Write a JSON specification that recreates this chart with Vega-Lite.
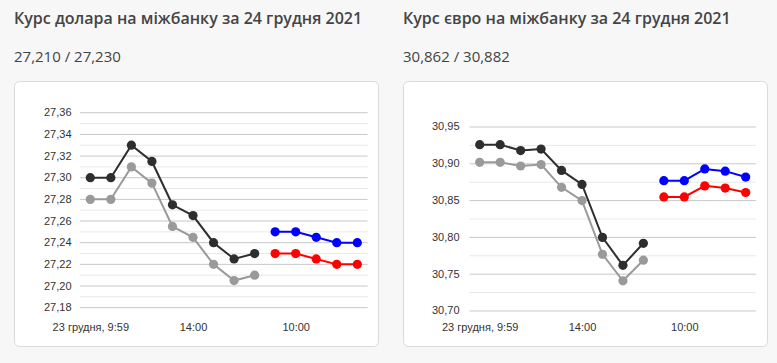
{
  "$schema": "https://vega.github.io/schema/vega-lite/v6.json",
  "background": "#f7f7f7",
  "padding": {"left": 13, "top": 10, "right": 13, "bottom": 16},
  "autosize": {"type": "pad"},
  "config": {
    "locale": {"number": {"decimal": ",", "thousands": " ", "grouping": [3], "currency": ["", ""]}},
    "view": {"fill": "white", "stroke": "#dadada", "strokeWidth": 1, "cornerRadius": 5},
    "concat": {"spacing": 23},
    "axis": {"labelFont": "Liberation Sans", "labelFontSize": 11, "labelColor": "#333333", "grid": false, "domain": false, "ticks": false, "tickSize": 0, "labelPadding": 0, "labelFlush": false, "labelOverlap": false},
    "title": {"font": "Open Sans", "fontSize": 16, "fontWeight": 600, "color": "#444444", "subtitleFont": "Open Sans", "subtitleFontSize": 15, "subtitleColor": "#444444", "anchor": "start", "frame": "group", "offset": 16, "subtitlePadding": 23}
  },
  "datasets": {
    "usd": [
      {"i": 0, "s": "купівля 23.12", "v": 27.28}, {"i": 1, "s": "купівля 23.12", "v": 27.28}, {"i": 2, "s": "купівля 23.12", "v": 27.31}, {"i": 3, "s": "купівля 23.12", "v": 27.295}, {"i": 4, "s": "купівля 23.12", "v": 27.255}, {"i": 5, "s": "купівля 23.12", "v": 27.245}, {"i": 6, "s": "купівля 23.12", "v": 27.22}, {"i": 7, "s": "купівля 23.12", "v": 27.205}, {"i": 8, "s": "купівля 23.12", "v": 27.21},
      {"i": 0, "s": "продаж 23.12", "v": 27.30}, {"i": 1, "s": "продаж 23.12", "v": 27.30}, {"i": 2, "s": "продаж 23.12", "v": 27.33}, {"i": 3, "s": "продаж 23.12", "v": 27.315}, {"i": 4, "s": "продаж 23.12", "v": 27.275}, {"i": 5, "s": "продаж 23.12", "v": 27.265}, {"i": 6, "s": "продаж 23.12", "v": 27.24}, {"i": 7, "s": "продаж 23.12", "v": 27.225}, {"i": 8, "s": "продаж 23.12", "v": 27.23},
      {"i": 9, "s": "купівля 24.12", "v": 27.23}, {"i": 10, "s": "купівля 24.12", "v": 27.23}, {"i": 11, "s": "купівля 24.12", "v": 27.225}, {"i": 12, "s": "купівля 24.12", "v": 27.22}, {"i": 13, "s": "купівля 24.12", "v": 27.22},
      {"i": 9, "s": "продаж 24.12", "v": 27.25}, {"i": 10, "s": "продаж 24.12", "v": 27.25}, {"i": 11, "s": "продаж 24.12", "v": 27.245}, {"i": 12, "s": "продаж 24.12", "v": 27.24}, {"i": 13, "s": "продаж 24.12", "v": 27.24}
    ],
    "eur": [
      {"i": 0, "s": "купівля 23.12", "v": 30.902}, {"i": 1, "s": "купівля 23.12", "v": 30.902}, {"i": 2, "s": "купівля 23.12", "v": 30.897}, {"i": 3, "s": "купівля 23.12", "v": 30.899}, {"i": 4, "s": "купівля 23.12", "v": 30.868}, {"i": 5, "s": "купівля 23.12", "v": 30.85}, {"i": 6, "s": "купівля 23.12", "v": 30.777}, {"i": 7, "s": "купівля 23.12", "v": 30.741}, {"i": 8, "s": "купівля 23.12", "v": 30.769},
      {"i": 0, "s": "продаж 23.12", "v": 30.926}, {"i": 1, "s": "продаж 23.12", "v": 30.926}, {"i": 2, "s": "продаж 23.12", "v": 30.918}, {"i": 3, "s": "продаж 23.12", "v": 30.92}, {"i": 4, "s": "продаж 23.12", "v": 30.891}, {"i": 5, "s": "продаж 23.12", "v": 30.872}, {"i": 6, "s": "продаж 23.12", "v": 30.8}, {"i": 7, "s": "продаж 23.12", "v": 30.762}, {"i": 8, "s": "продаж 23.12", "v": 30.792},
      {"i": 9, "s": "купівля 24.12", "v": 30.855}, {"i": 10, "s": "купівля 24.12", "v": 30.855}, {"i": 11, "s": "купівля 24.12", "v": 30.87}, {"i": 12, "s": "купівля 24.12", "v": 30.867}, {"i": 13, "s": "купівля 24.12", "v": 30.861},
      {"i": 9, "s": "продаж 24.12", "v": 30.877}, {"i": 10, "s": "продаж 24.12", "v": 30.877}, {"i": 11, "s": "продаж 24.12", "v": 30.893}, {"i": 12, "s": "продаж 24.12", "v": 30.89}, {"i": 13, "s": "продаж 24.12", "v": 30.882}
    ],
    "usdGrid": [
      {"v": 27.18, "major": true}, {"v": 27.19, "major": false}, {"v": 27.20, "major": true}, {"v": 27.21, "major": false}, {"v": 27.22, "major": true}, {"v": 27.23, "major": false}, {"v": 27.24, "major": true}, {"v": 27.25, "major": false}, {"v": 27.26, "major": true}, {"v": 27.27, "major": false}, {"v": 27.28, "major": true}, {"v": 27.29, "major": false}, {"v": 27.30, "major": true}, {"v": 27.31, "major": false}, {"v": 27.32, "major": true}, {"v": 27.33, "major": false}, {"v": 27.34, "major": true}, {"v": 27.35, "major": false}, {"v": 27.36, "major": true}
    ],
    "eurGrid": [
      {"v": 30.70, "major": true}, {"v": 30.725, "major": false}, {"v": 30.75, "major": true}, {"v": 30.775, "major": false}, {"v": 30.80, "major": true}, {"v": 30.825, "major": false}, {"v": 30.85, "major": true}, {"v": 30.875, "major": false}, {"v": 30.90, "major": true}, {"v": 30.925, "major": false}, {"v": 30.95, "major": true}
    ]
  },
  "hconcat": [
    {
      "width": 364,
      "height": 265,
      "title": {"text": "Курс долара на міжбанку за 24 грудня 2021", "subtitle": "27,210 / 27,230"},
      "layer": [
        {
          "data": {"name": "usdGrid"},
          "mark": {"type": "rule", "strokeWidth": 1},
          "encoding": {
            "y": {"field": "v", "type": "quantitative"},
            "x": {"datum": -0.5, "type": "quantitative"},
            "x2": {"datum": 13.5},
            "color": {"condition": {"test": "datum.major", "value": "#c8c8c8"}, "value": "#e8e8e8"}
          }
        },
        {
          "data": {"name": "usd"},
          "mark": {"type": "line", "strokeWidth": 2, "point": {"filled": true, "size": 85, "opacity": 1}},
          "encoding": {
            "x": {"field": "i", "type": "quantitative", "scale": {"domain": [-3.715, 14.007], "nice": false, "zero": false},
              "axis": {"values": [0, 5, 10], "tickCount": 20, "labelExpr": "datum.value == 0 ? '23 грудня, 9:59' : datum.value == 5 ? '14:00' : '10:00'", "offset": -25, "title": null}},
            "y": {"field": "v", "type": "quantitative", "scale": {"domain": [27.1446, 27.3893], "nice": false, "zero": false},
              "axis": {"values": [27.18, 27.2, 27.22, 27.24, 27.26, 27.28, 27.3, 27.32, 27.34, 27.36], "tickCount": 20, "format": ".2f", "offset": -57, "title": null}},
            "color": {"field": "s", "type": "nominal", "legend": null,
              "scale": {"domain": ["купівля 23.12", "продаж 23.12", "купівля 24.12", "продаж 24.12"], "range": ["#9a9a9a", "#2e2e2e", "#ff0000", "#0000ff"]}}
          }
        }
      ]
    },
    {
      "width": 364,
      "height": 265,
      "title": {"text": "Курс євро на міжбанку за 24 грудня 2021", "subtitle": "30,862 / 30,882"},
      "layer": [
        {
          "data": {"name": "eurGrid"},
          "mark": {"type": "rule", "strokeWidth": 1},
          "encoding": {
            "y": {"field": "v", "type": "quantitative"},
            "x": {"datum": -0.5, "type": "quantitative"},
            "x2": {"datum": 13.5},
            "color": {"condition": {"test": "datum.major", "value": "#c8c8c8"}, "value": "#e8e8e8"}
          }
        },
        {
          "data": {"name": "eur"},
          "mark": {"type": "line", "strokeWidth": 2, "point": {"filled": true, "size": 85, "opacity": 1}},
          "encoding": {
            "x": {"field": "i", "type": "quantitative", "scale": {"domain": [-3.749, 14.042], "nice": false, "zero": false},
              "axis": {"values": [0, 5, 10], "tickCount": 20, "labelExpr": "datum.value == 0 ? '23 грудня, 9:59' : datum.value == 5 ? '14:00' : '10:00'", "offset": -25, "title": null}},
            "y": {"field": "v", "type": "quantitative", "scale": {"domain": [30.6524, 31.0125], "nice": false, "zero": false},
              "axis": {"values": [30.7, 30.75, 30.8, 30.85, 30.9, 30.95], "tickCount": 20, "format": ".2f", "offset": -56, "title": null}},
            "color": {"field": "s", "type": "nominal", "legend": null,
              "scale": {"domain": ["купівля 23.12", "продаж 23.12", "купівля 24.12", "продаж 24.12"], "range": ["#9a9a9a", "#2e2e2e", "#ff0000", "#0000ff"]}}
          }
        }
      ]
    }
  ]
}
